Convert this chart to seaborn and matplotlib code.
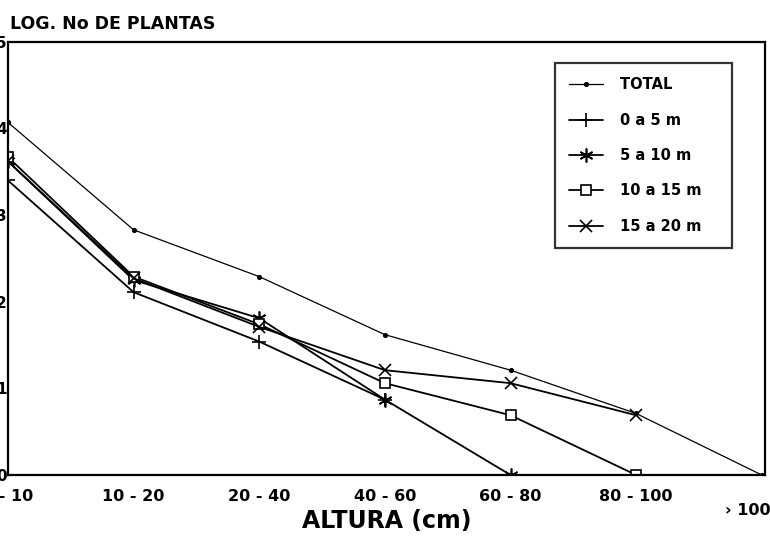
import numpy as np
import pandas as pd
import seaborn as sns
import matplotlib.pyplot as plt
from matplotlib.transforms import blended_transform_factory

# alturas (clases) y log del numero de plantas
alturas = ['0 - 10', '10 - 20', '20 - 40', '40 - 60', '60 - 80', '80 - 100', '› 100']
total = [4.07, 2.83, 2.29, 1.62, 1.21, 0.71, 0.0]
dist_0_5 = [3.40, 2.11, 1.54, 0.87]
dist_5_10 = [3.62, 2.25, 1.81, 0.87, 0.0]
dist_10_15 = [3.67, 2.29, 1.74, 1.06, 0.69, 0.0]
dist_15_20 = [3.62, 2.27, 1.71, 1.21, 1.06, 0.69]

series = [
    ('TOTAL', total, dict(marker='o', markersize=2.5, mfc='black', lw=0.9)),
    ('0 a 5 m', dist_0_5, dict(marker='+', markersize=10, mfc='none', lw=1.3)),
    ('5 a 10 m', dist_5_10, dict(marker=(6, 2, 0), markersize=10, mfc='none', lw=1.3)),
    ('10 a 15 m', dist_10_15, dict(marker='s', markersize=7, mfc='white', lw=1.3)),
    ('15 a 20 m', dist_15_20, dict(marker='x', markersize=8, mfc='none', lw=1.3)),
]

sns.set_style('white')
plt.rcParams['font.family'] = ['DejaVu Sans']
plt.rcParams['font.weight'] = 'bold'
for clave in ['text.color', 'axes.labelcolor', 'xtick.color', 'ytick.color']:
    plt.rcParams[clave] = 'black'

fig = plt.figure(figsize=(7.7, 5.41), dpi=100)
ax = fig.add_axes([0.0104, 0.122, 0.983, 0.8006])

for nombre, valores, estilo in series:
    df = pd.DataFrame({'pos': np.arange(len(valores)), 'log': valores})
    sns.lineplot(data=df, x='pos', y='log', ax=ax, color='black', label=nombre,
                 markeredgecolor='black', markeredgewidth=1.2, **estilo)

ax.set_xlim(0, 6.025)
ax.set_ylim(0, 5)
ax.set_xticks(np.arange(len(alturas)))
ax.set_xticklabels(alturas[:-1] + [''], fontsize=11.5, fontweight='bold')
ax.set_yticks(np.arange(6))
ax.set_yticklabels([str(i) for i in range(6)], fontsize=11, fontweight='bold')
ax.tick_params(axis='x', direction='in', length=6, width=1.2, pad=10)
ax.tick_params(axis='y', direction='in', length=5, width=1.2, pad=1)

trans = blended_transform_factory(ax.transData, ax.transAxes)
ax.text(len(alturas) - 1 - 0.11, -0.083, alturas[-1], transform=trans,
        ha='center', va='center', fontsize=11.5, fontweight='bold')

for lado in ['left', 'right', 'top', 'bottom']:
    ax.spines[lado].set_color('black')
    ax.spines[lado].set_linewidth(1.6)

ax.set_xlabel('ALTURA (cm)', fontsize=17, fontweight='bold', labelpad=4)
ax.set_ylabel('')
fig.text(0.013, 0.955, 'LOG. No DE PLANTAS', fontsize=12.5, fontweight='bold',
         ha='left', va='center')

leg = ax.legend(loc='upper right', bbox_to_anchor=(0.956, 0.952),
                frameon=True, fancybox=False, edgecolor='black', labelspacing=1.4,
                handlelength=2.3, handletextpad=1.2, borderpad=1.0, borderaxespad=0,
                prop={'weight': 'bold', 'size': 10.5})
leg.get_frame().set_linewidth(1.6)
for t in leg.get_texts():
    t.set_text(t.get_text() + '   ')

plt.savefig('out.png', dpi=100)
